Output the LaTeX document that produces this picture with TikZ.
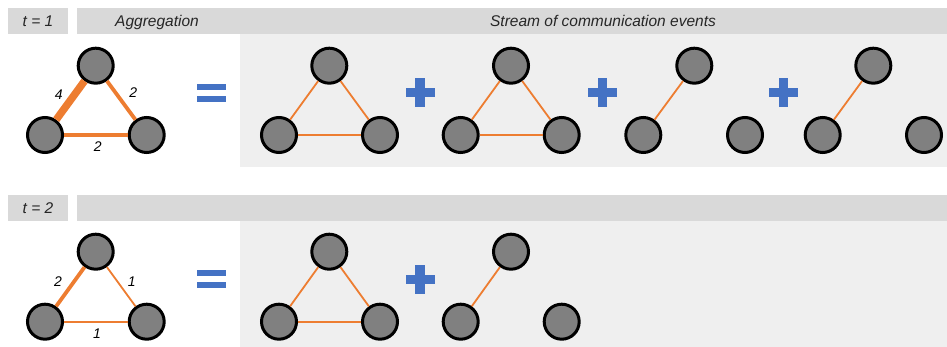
\documentclass[tikz,border=0pt]{standalone}
\usepackage{fontspec}
\setmainfont{Liberation Sans}
\definecolor{hdr}{HTML}{D9D9D9}
\definecolor{pnl}{HTML}{EFEFEF}
\definecolor{edg}{HTML}{ED7D31}
\definecolor{sym}{HTML}{4472C4}
\definecolor{nfill}{HTML}{808080}
\tikzset{
  vtx/.style={circle,draw=black,fill=nfill,line width=3pt,minimum size=35pt,inner sep=0pt},
  ethin/.style={draw=edg,line width=1.8pt},
  emid/.style={draw=edg,line width=3.8pt},
  ethick/.style={draw=edg,line width=7.5pt},
  hdrtxt/.style={font=\fontsize{15.5}{17}\selectfont\itshape,text=black!85,inner sep=0pt,anchor=base},
  elab/.style={font=\fontsize{14}{15}\selectfont\itshape,inner sep=0pt},
}
\newcommand{\plussign}[2]{\fill[sym] (#1-14.5,#2-4.6) rectangle (#1+14.5,#2+4.6);
  \fill[sym] (#1-4.6,#2-14.5) rectangle (#1+4.6,#2+14.5);}
\newcommand{\eqsign}[2]{\fill[sym] (#1-14.5,#2-9) rectangle (#1+14.5,#2-3);
  \fill[sym] (#1-14.5,#2+3) rectangle (#1+14.5,#2+9);}
\begin{document}
\begin{tikzpicture}[x=1pt,y=-1pt]
\useasboundingbox (0,0) rectangle (947,347);
% headers and panels
\fill[hdr] (8,8) rectangle (68,34);
\fill[hdr] (77,8) rectangle (947,34);
\fill[pnl] (240,34) rectangle (947,167);
\fill[hdr] (8,195) rectangle (68,221);
\fill[hdr] (77,195) rectangle (947,221);
\fill[pnl] (240,221) rectangle (947,347);
\node[hdrtxt] (t1) at (38,26.5) {t = 1};
\node[hdrtxt] (agg) at (157,26.5) {Aggregation};
\node[hdrtxt] (str) at (603,26.5) {Stream of communication events};
\node[hdrtxt] (t2) at (38,213.5) {t = 2};

% row 1 aggregation
\node[vtx] (a1t) at (95.7,65.7) {};
\node[vtx] (a1l) at (45,135) {};
\node[vtx] (a1r) at (146.7,135) {};
\draw[ethick] (a1l) -- (a1t);
\draw[emid] (a1t) -- (a1r);
\draw[emid] (a1l) -- (a1r);
\node[elab] (l14) at (58.7,95) {4};
\node[elab] (l12a) at (133.3,93) {2};
\node[elab] (l12b) at (97.7,146.7) {2};
\eqsign{211.7}{93}

% row 1 stream
\node[vtx] (s1t) at (329.3,65.7) {};
\node[vtx] (s1l) at (279,135) {};
\node[vtx] (s1r) at (380,135) {};
\draw[ethin] (s1l) -- (s1t);
\draw[ethin] (s1t) -- (s1r);
\draw[ethin] (s1l) -- (s1r);
\plussign{420}{92.7}
\node[vtx] (s2t) at (511,65.7) {};
\node[vtx] (s2l) at (460.7,135) {};
\node[vtx] (s2r) at (561.7,135) {};
\draw[ethin] (s2l) -- (s2t);
\draw[ethin] (s2t) -- (s2r);
\draw[ethin] (s2l) -- (s2r);
\plussign{602.7}{92.7}
\node[vtx] (s3t) at (694.3,65.7) {};
\node[vtx] (s3l) at (643.3,135) {};
\node[vtx] (s3r) at (745,135) {};
\draw[ethin] (s3l) -- (s3t);
\plussign{783.3}{92.7}
\node[vtx] (s4t) at (873.3,65.7) {};
\node[vtx] (s4l) at (822.7,135) {};
\node[vtx] (s4r) at (924,135) {};
\draw[ethin] (s4l) -- (s4t);

% row 2 aggregation
\node[vtx] (b1t) at (95.7,251.7) {};
\node[vtx] (b1l) at (45,321.7) {};
\node[vtx] (b1r) at (146.7,321.7) {};
\draw[emid] (b1l) -- (b1t);
\draw[ethin] (b1t) -- (b1r);
\draw[ethin] (b1l) -- (b1r);
\node[elab] (l22) at (58,281.7) {2};
\node[elab] (l21a) at (131.7,281.7) {1};
\node[elab] (l21b) at (97,333.3) {1};
\eqsign{211.7}{279}

% row 2 stream
\node[vtx] (u1t) at (329.3,251.7) {};
\node[vtx] (u1l) at (279,321.7) {};
\node[vtx] (u1r) at (380,321.7) {};
\draw[ethin] (u1l) -- (u1t);
\draw[ethin] (u1t) -- (u1r);
\draw[ethin] (u1l) -- (u1r);
\plussign{420}{279.3}
\node[vtx] (u2t) at (511,251.7) {};
\node[vtx] (u2l) at (460.7,321.7) {};
\node[vtx] (u2r) at (561.7,321.7) {};
\draw[ethin] (u2l) -- (u2t);
\end{tikzpicture}
\end{document}
